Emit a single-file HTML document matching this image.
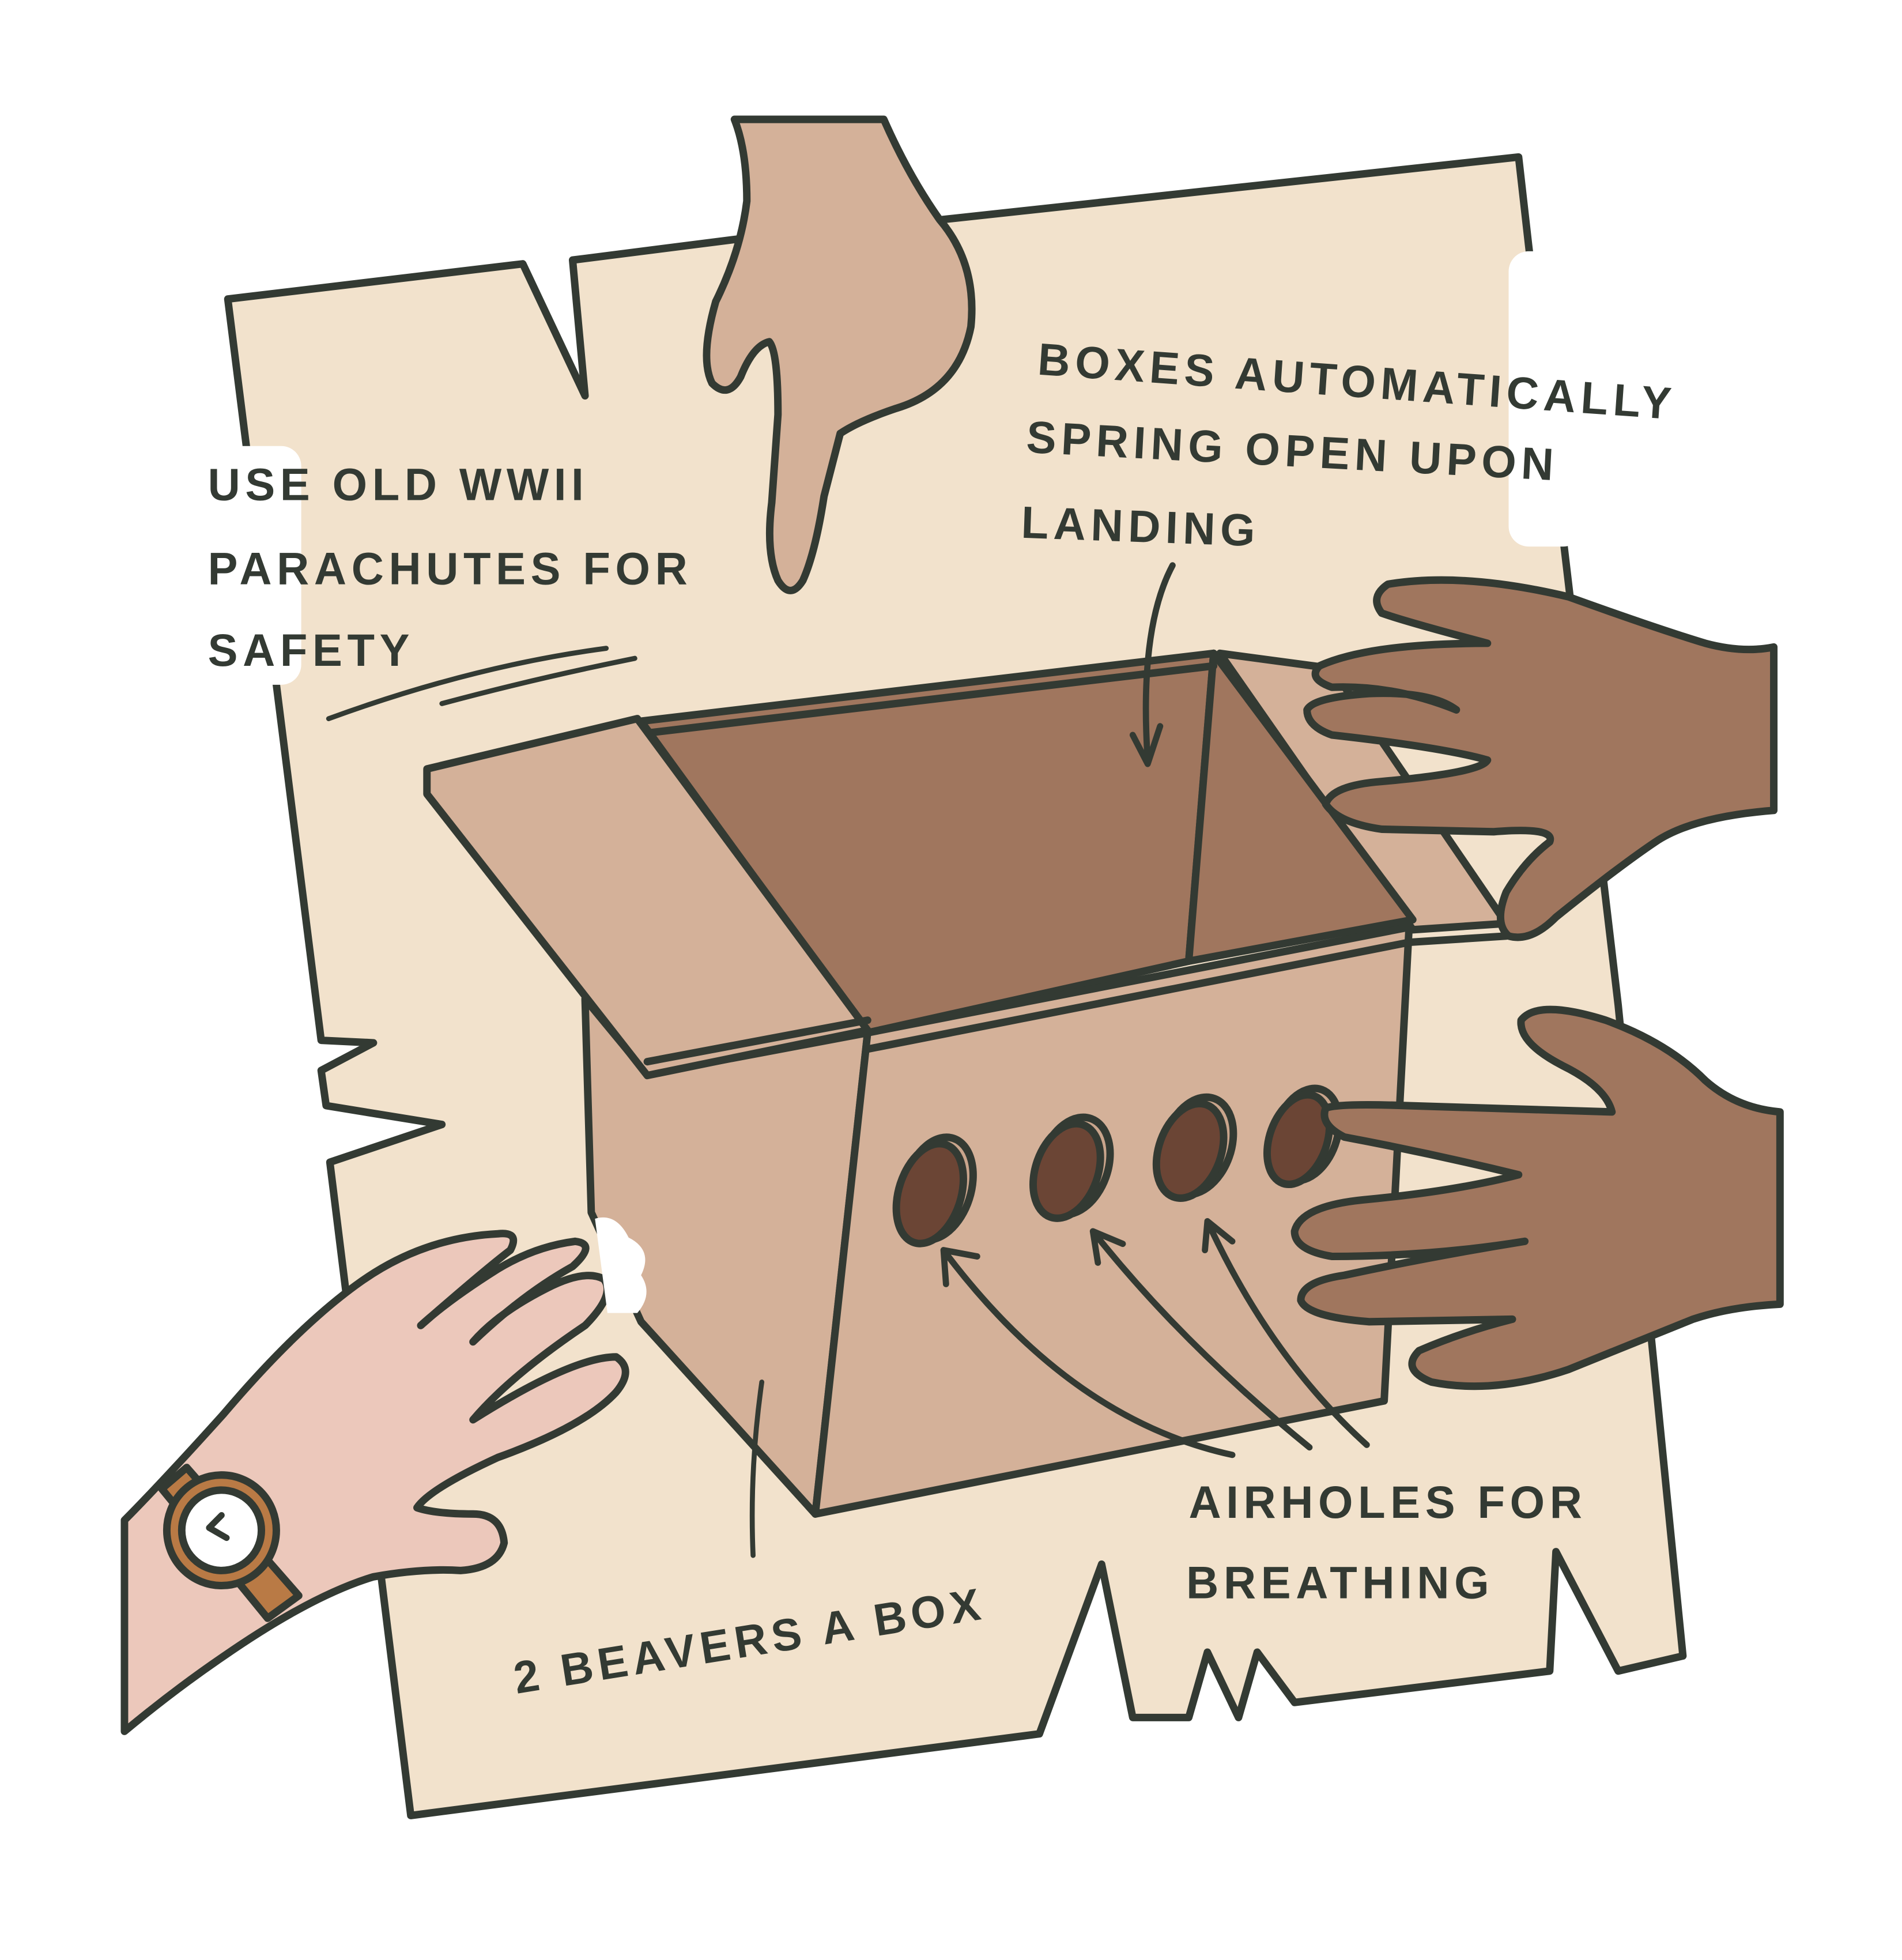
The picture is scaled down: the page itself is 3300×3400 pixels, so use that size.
<!DOCTYPE html>
<html><head><meta charset="utf-8"><style>
html,body{margin:0;padding:0;background:#fff;}
svg{display:block;}
text{font-family:"Liberation Sans",sans-serif;font-weight:bold;fill:#333a33;letter-spacing:4px;}
</style></head><body>
<svg width="3300" height="3400" viewBox="0 0 1528 1560" preserveAspectRatio="none" xmlns="http://www.w3.org/2000/svg">
<g stroke="#333a33" stroke-width="6" stroke-linejoin="round" stroke-linecap="round">
<path fill="#f2e2cc" d="M183,238 L420,210 L470,315 L460,207 L595,190 L755,175 L1220,125 L1228,195 L1300,800 L1352,1318 L1300,1330 L1250,1235 L1245,1330 L1040,1355 L1010,1315 L995,1367 L970,1315 L955,1367 L910,1367 L885,1245 L835,1380 L330,1445 L265,925 L355,895 L262,880 L258,852 L300,830 L258,828 Z"/>
</g>
<rect x="1212" y="200" width="60" height="235" rx="16" fill="#fff"/>
<rect x="150" y="355" width="92" height="190" rx="16" fill="#fff"/>
<g stroke="#333a33" stroke-width="6" stroke-linejoin="round" stroke-linecap="round">
<path fill="#d4b199" d="M980,520 L1070,532 L1210,735 L1135,740 Z"/>
<path fill="#a0765e" d="M515,574 L975,520 L955,765 L697,822 Z"/>
<path fill="#a0765e" d="M975,520 L1135,732 L955,765 Z"/>
<path fill="#d4b199" d="M470,795 L520,855 L697,822 L655,1205 L515,1052 L475,965 Z"/>
<path fill="#d4b199" d="M697,822 L1132,738 L1112,1115 L655,1205 Z"/>
<path fill="none" d="M697,835 L1132,750 L1210,745"/>
<path fill="none" d="M515,584 L975,530"/>
<path fill="#d4b199" d="M343,612 L512,572 L697,820 L520,856 L343,632 Z"/>
<path fill="none" d="M520,845 L697,812"/>
<g fill="#c9a58c">
<ellipse cx="753" cy="946" rx="27" ry="42" transform="rotate(18 753 946)"/>
<ellipse cx="863" cy="928" rx="27" ry="40" transform="rotate(20 863 928)"/>
<ellipse cx="962" cy="912" rx="27" ry="40" transform="rotate(20 962 912)"/>
<ellipse cx="1049" cy="903" rx="25" ry="38" transform="rotate(20 1049 903)"/>
</g>
<g fill="#6b4535">
<ellipse cx="747" cy="950" rx="25" ry="41" transform="rotate(18 747 950)"/>
<ellipse cx="857" cy="932" rx="25" ry="39" transform="rotate(20 857 932)"/>
<ellipse cx="956" cy="916" rx="25" ry="39" transform="rotate(20 956 916)"/>
<ellipse cx="1043" cy="907" rx="23" ry="37" transform="rotate(20 1043 907)"/>
</g>
<path fill="#d4b199" d="M590,95 L710,95 Q730,140 755,175 Q785,210 780,260 Q770,310 720,325 Q690,335 675,345 L662,395 Q655,440 645,462 Q635,478 625,462 Q615,440 620,400 L625,330 Q625,280 618,272 Q605,275 595,300 Q585,318 572,305 Q562,285 575,240 Q595,200 600,160 Q600,120 590,95 Z"/>
<path fill="#a0765e" d="M1425,515 L1425,645 Q1360,650 1330,670 Q1300,690 1250,730 Q1230,750 1212,745 Q1200,735 1210,710 Q1225,685 1245,670 Q1250,658 1200,662 L1110,660 Q1075,655 1065,640 Q1070,625 1110,622 Q1190,615 1195,605 Q1160,595 1070,585 Q1050,578 1050,565 Q1055,555 1100,552 Q1150,550 1170,565 Q1120,545 1070,547 Q1050,540 1060,530 Q1100,512 1195,512 Q1130,495 1110,488 Q1100,475 1115,465 Q1175,455 1260,475 Q1330,500 1370,512 Q1400,520 1425,515 Z"/>
<path fill="#a0765e" d="M1430,885 L1430,1038 Q1390,1040 1360,1050 Q1310,1070 1260,1090 Q1200,1110 1150,1100 Q1125,1090 1140,1075 Q1175,1060 1215,1050 L1100,1052 Q1050,1048 1045,1035 Q1045,1020 1080,1015 Q1150,1000 1225,988 Q1150,1000 1070,1000 Q1040,995 1040,980 Q1045,960 1095,955 Q1170,948 1220,935 Q1150,918 1080,905 Q1060,895 1065,882 Q1075,878 1130,880 L1295,885 Q1290,865 1255,848 Q1220,830 1222,812 Q1235,795 1290,812 Q1340,830 1370,860 Q1395,882 1430,885 Z"/>
<path fill="#ecc8bb" d="M100,1210 L100,1378 Q140,1345 180,1318 Q250,1270 300,1255 Q340,1248 370,1250 Q400,1248 405,1228 Q403,1205 380,1205 Q350,1205 335,1200 Q345,1185 400,1160 Q470,1135 495,1108 Q510,1090 495,1080 Q460,1080 380,1130 Q410,1095 470,1055 Q495,1030 485,1018 Q470,1010 440,1025 Q400,1045 380,1068 Q420,1030 460,1008 Q480,990 462,988 Q430,992 400,1010 Q360,1035 338,1055 Q390,1010 410,995 Q418,980 400,982 Q340,985 290,1020 Q240,1055 180,1125 Q130,1180 100,1210 Z"/>
<path fill="#fff" stroke="none" d="M478,970 Q495,965 505,985 Q525,995 515,1015 Q525,1030 512,1045 L488,1045 Z"/>
<path fill="#b97a45" d="M130,1185 L150,1168 L240,1270 L215,1288 Z"/>
<circle cx="178" cy="1218" r="44" fill="#b97a45"/>
<circle cx="178" cy="1218" r="32" fill="#fff"/>
<path fill="none" stroke-width="5" d="M178,1206 L168,1216 L182,1224"/>
<path fill="none" stroke-width="5" d="M942,450 Q915,500 922,605 M910,585 L922,608 L932,578"/>
<path fill="none" stroke-width="5" d="M990,1158 Q860,1130 758,995 M760,1022 L758,995 L785,1000"/>
<path fill="none" stroke-width="5" d="M1052,1152 Q950,1070 878,980 M882,1005 L878,980 L902,990"/>
<path fill="none" stroke-width="5" d="M1098,1150 Q1020,1080 970,972 M968,995 L970,972 L990,988"/>
<path fill="none" stroke-width="4" d="M264,572 Q380,530 487,516 M355,560 Q430,540 510,524"/>
<path fill="none" stroke-width="4" d="M612,1100 Q602,1170 605,1238"/>
</g>
<text x="167" y="398" font-size="36">USE OLD WWII</text>
<text x="167" y="465" font-size="36">PARACHUTES FOR</text>
<text x="167" y="530" font-size="36">SAFETY</text>
<text x="833" y="298" font-size="36" transform="rotate(4 833 298)">BOXES AUTOMATICALLY</text>
<text x="824" y="360" font-size="36" transform="rotate(3 824 360)">SPRING OPEN UPON</text>
<text x="820" y="428" font-size="36" transform="rotate(2 820 428)">LANDING</text>
<text x="955" y="1208" font-size="36">AIRHOLES FOR</text>
<text x="953" y="1272" font-size="36">BREATHING</text>
<text x="415" y="1348" font-size="36" transform="rotate(-9 415 1348)">2 BEAVERS A BOX</text>
</svg>
</body></html>
